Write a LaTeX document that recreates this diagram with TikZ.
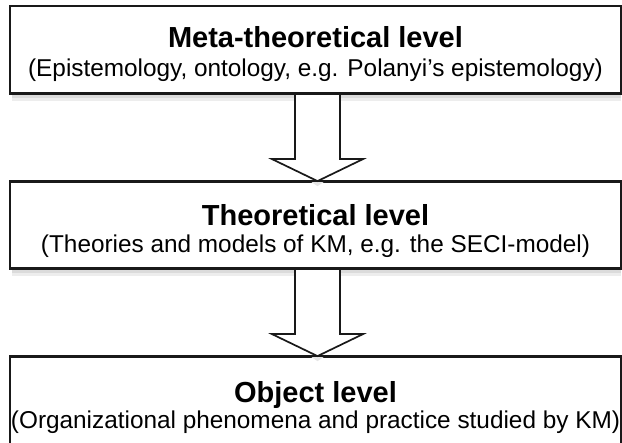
\documentclass[tikz,border=0pt]{standalone}
\usepackage{fontspec}
\setmainfont{Liberation Sans}
\usetikzlibrary{calc}
\tikzset{
  levelbox/.style={draw=black!90, line width=1.8pt, fill=white, rectangle, inner sep=0pt},
  boxedge/.style={draw=black!90, line width=1.8pt},
  boxshade/.style={fill=black!14},
  titletext/.style={font=\fontsize{29}{34}\selectfont\bfseries, anchor=base, inner sep=0pt},
  subtext/.style={font=\fontsize{24.35}{28}\selectfont, anchor=base, inner sep=0pt},
  blockarrow/.style={draw=black!90, line width=1.7pt, fill=white, line join=miter},
}
\begin{document}
\begin{tikzpicture}[x=1pt,y=-1pt]
  \useasboundingbox (0,0) rectangle (622,443);
  \fill[white] (0,0) rectangle (622,443);
  \clip (0,0) rectangle (622,443);

  % soft shading under the boxes
  \fill[boxshade] (12,93) rectangle (621,98);
  \fill[black!7] (12,98) rectangle (621,101);
  \fill[boxshade] (12,268) rectangle (621,273);
  \fill[black!7] (12,273) rectangle (621,276);

  % the three levels
  \node[levelbox, minimum width=611pt, minimum height=87pt] (b1) at (315.5,49.5) {};
  \node[levelbox, minimum width=611pt, minimum height=86pt] (b2) at (315.5,225) {};
  \node[levelbox, minimum width=611pt, minimum height=92pt] (b3) at (315.5,403) {};

  % block arrows between the levels
  \coordinate (a1s) at (b1.south -| 317.5,0);
  \coordinate (a1e) at (b2.north -| 317.5,0);
  \coordinate (a2s) at (b2.south -| 317.5,0);
  \coordinate (a2e) at (b3.north -| 317.5,0);
  \foreach \s/\e in {a1s/a1e, a2s/a2e}{
    \fill[black!10] ($(\e)+(-6,1)$) -- ($(\e)+(0,5)$) -- ($(\e)+(6,1)$) -- cycle;
    \draw[blockarrow]
      ($(\s)+(-22.5,0)$) -- ($(\e)+(-22.5,-22)$) -- ($(\e)+(-45.5,-22)$)
      -- (\e) -- ($(\e)+(45.5,-22)$) -- ($(\e)+(22.5,-22)$) -- ($(\s)+(22.5,0)$);
  }
  % box edges drawn again over the arrow ends
  \draw[boxedge] (b1.south west) -- (b1.south east);
  \draw[boxedge] (b2.north west) -- (b2.north east);
  \draw[boxedge] (b2.south west) -- (b2.south east);
  \draw[boxedge] (b3.north west) -- (b3.north east);

  % texts
  \node[titletext] (t1) at (315.5,48) {Meta-theoretical level};
  \node[subtext] (s1) at (315.5,77) {(Epistemology, ontology, e.g. Polanyi’s epistemology)};
  \node[titletext] (t2) at (315.5,226) {Theoretical level};
  \node[subtext] (s2) at (315.5,253) {(Theories and models of KM, e.g. the SECI-model)};
  \node[titletext] (t3) at (315.5,403) {Object level};
  \node[subtext] (s3) at (315.5,429) {(Organizational phenomena and practice studied by KM)};
\end{tikzpicture}
\end{document}
